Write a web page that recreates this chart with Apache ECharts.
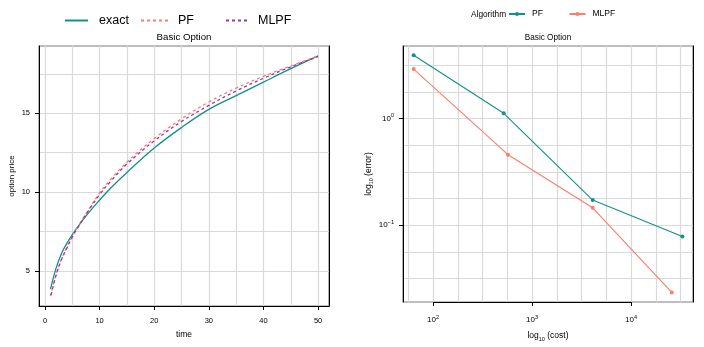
<!DOCTYPE html>
<html><head><meta charset="utf-8">
<script src="https://cdn.jsdelivr.net/npm/echarts@6/dist/echarts.min.js"></script>
<style>html,body{margin:0;padding:0;background:#fff}#c{width:704px;height:347px}</style>
</head><body><div id="c"></div>
<script>
// ---- data (left panel) ----
const times      = [1, 2, 3, 4, 5, 6, 8, 10, 12, 15, 20, 25, 30, 35, 40, 45, 50];
const exactPrice = [3.85, 5.15, 6.1, 6.75, 7.3, 7.8, 8.7, 9.5, 10.25, 11.25, 12.8, 14.1, 15.25, 16.12, 16.98, 17.83, 18.64];
const pfPrice    = [3.4, 4.75, 5.75, 6.5, 7.2, 7.8, 8.9, 9.95, 10.8, 11.9, 13.4, 14.65, 15.72, 16.6, 17.35, 18.0, 18.65];
const mlpfPrice  = [3.3, 4.7, 5.7, 6.45, 7.15, 7.75, 8.85, 9.85, 10.68, 11.78, 13.25, 14.48, 15.5, 16.42, 17.22, 17.95, 18.6];
// ---- data (right panel) ----
const costPF    = [63.8, 518, 4100, 33000];
const errorPF   = [3.92, 1.12, 0.172, 0.0785];
const costMLPF  = [63.8, 572, 4100, 25800];
const errorMLPF = [2.91, 0.458, 0.1455, 0.0234];
// ---- ticks ----
const timeLabels  = [0, 10, 20, 30, 40, 50];
const timeGrid    = [0, 5, 10, 15, 20, 25, 30, 35, 40, 45, 50];
const priceLabels = [5, 10, 15];
const priceGrid   = [5, 7.5, 10, 12.5, 15, 17.5];
const costExp     = [2, 3, 4];
const costGridExp = [1.75, 2, 2.25, 2.5, 2.75, 3, 3.25, 3.5, 3.75, 4, 4.25, 4.5];
const errExp      = [-1, 0];
const errGridExp  = [-1.5, -1.25, -1, -0.75, -0.5, -0.25, 0, 0.25, 0.5];

const FONT = 'Liberation Sans, Arial, Helvetica, sans-serif';
const TEAL = '#10918C', SALMON = '#FA7E6B', PURPLE = '#A0339E';
const GRID = '#D9D9D9';

const L = {xMin: -1.1, xMax: 52, yMin: 2.78, yMax: 19.27};
const R = {xMin: 1.697, xMax: 4.626, yMin: -1.72, yMax: 0.68};

function pairs(xs, ys, f) { return xs.map((x, i) => [f ? f(x) : x, f ? f(ys[i]) : ys[i]]); }
const lg = Math.log10;
const supFmt = v => '{b|10}{s|' + (v < 0 ? '\u2212' + (-v) : v) + '}';
const supRich = {b: {fontSize: 8, fontFamily: FONT, color: '#000', lineHeight: 12},
                 s: {fontSize: 5.5, fontFamily: FONT, color: '#000', verticalAlign: 'top', lineHeight: 12}};
const subRich = {b: {fontSize: 8.5, fontFamily: FONT, color: '#000', lineHeight: 12},
                 s: {fontSize: 5.5, fontFamily: FONT, color: '#000', verticalAlign: 'bottom', lineHeight: 12}};

function gridAxis(min, max, gridVals, gi, pos) {
  return {type: 'value', gridIndex: gi, min, max, position: pos,
    axisLine: {show: false, onZero: false},
    axisTick: {show: false, customValues: gridVals},
    axisLabel: {show: false},
    splitLine: {show: true, lineStyle: {color: GRID, width: 1.2}}};
}
function labelAxis(min, max, vals, gi, pos, extra) {
  return Object.assign({type: 'value', gridIndex: gi, min, max, position: pos,
    axisLine: {show: true, onZero: false, lineStyle: {color: '#000', width: 1}},
    axisTick: {show: true, length: 4, customValues: vals, lineStyle: {color: '#000', width: 1}},
    axisLabel: {show: true, customValues: vals, fontSize: 7.5, fontFamily: FONT, color: '#000'},
    splitLine: {show: false}}, extra || {});
}
function borderAxis(min, max, gi) {
  return {type: 'value', gridIndex: gi, min, max, position: 'right',
    axisLine: {show: true, onZero: false, lineStyle: {color: '#000', width: 1}},
    axisTick: {show: false}, axisLabel: {show: false}, splitLine: {show: false}};
}
function leg(left, top, w, h, name, fs, gap, hideSym) {
  const o = {left, top, padding: 0, itemWidth: w, itemHeight: h, data: [name],
    formatter: n => n.replace('_r', ''),
    textStyle: {fontSize: fs, color: '#000', fontFamily: FONT, padding: [0, 0, 0, gap]}};
  if (hideSym) o.itemStyle = {opacity: 0};
  return o;
}

const option = {
  animation: false,
  backgroundColor: '#fff',
  textStyle: {fontFamily: FONT},
  grid: [
    {left: 39, top: 46, width: 290, height: 260, show: true, borderColor: '#7F7F7F', borderWidth: 1.2, backgroundColor: 'transparent'},
    {left: 403, top: 46, width: 290, height: 260, show: true, borderColor: '#7F7F7F', borderWidth: 1.2, backgroundColor: 'transparent'}
  ],
  xAxis: [
    gridAxis(L.xMin, L.xMax, timeGrid, 0, 'bottom'),
    labelAxis(L.xMin, L.xMax, timeLabels, 0, 'bottom', {
      name: 'time', nameLocation: 'middle', nameGap: 23,
      nameTextStyle: {fontSize: 8.5, fontFamily: FONT, color: '#000'},
      axisLabel: {show: true, customValues: timeLabels, margin: 11, fontSize: 7.5, fontFamily: FONT, color: '#000'}}),
    gridAxis(R.xMin, R.xMax, costGridExp, 1, 'bottom'),
    labelAxis(R.xMin, R.xMax, costExp, 1, 'bottom', {
      axisLine: {show: false, onZero: false},
      name: '{b|log}{s|10}{b| (cost)}', nameLocation: 'middle', nameGap: 28,
      nameTextStyle: {rich: subRich},
      axisLabel: {show: true, customValues: costExp, margin: 12, formatter: supFmt, rich: supRich}})
  ],
  yAxis: [
    gridAxis(L.yMin, L.yMax, priceGrid, 0, 'left'),
    labelAxis(L.yMin, L.yMax, priceLabels, 0, 'left', {
      name: 'option price', nameLocation: 'middle', nameGap: 23, nameRotate: 90,
      nameTextStyle: {fontSize: 8, fontFamily: FONT, color: '#000'},
      axisLabel: {show: true, customValues: priceLabels, margin: 9, fontSize: 7.5, fontFamily: FONT, color: '#000'}}),
    borderAxis(L.yMin, L.yMax, 0),
    gridAxis(R.yMin, R.yMax, errGridExp, 1, 'left'),
    labelAxis(R.yMin, R.yMax, errExp, 1, 'left', {
      name: '{b|log}{s|10}{b| (error)}', nameLocation: 'middle', nameGap: 19, nameRotate: 90,
      nameTextStyle: {rich: subRich},
      axisLabel: {show: true, customValues: errExp, margin: 9, formatter: supFmt, rich: supRich}}),
    borderAxis(R.yMin, R.yMax, 1)
  ],
  legend: [
    leg(64, 14, 23, 14, 'exact', 12.5, 6, true),
    leg(140, 14, 27, 14, 'PF', 12.5, 5, true),
    leg(222, 14, 25, 14, 'MLPF', 12.5, 5, true),
    leg(508, 9.5, 16, 5, 'PF_r', 8.5, 2, false),
    leg(568.5, 9.5, 16, 5, 'MLPF_r', 8.5, 2, false)
  ],
  graphic: [
    {type: 'text', x: 184, y: 37.5, style: {text: 'Basic Option', x: 0, y: 0, align: 'center', verticalAlign: 'middle', fontSize: 9.7, fontFamily: FONT, fill: '#000'}},
    {type: 'text', x: 548, y: 37.5, style: {text: 'Basic Option', x: 0, y: 0, align: 'center', verticalAlign: 'middle', fontSize: 8.2, fontFamily: FONT, fill: '#000'}},
    {type: 'text', x: 471, y: 14.5, style: {text: 'Algorithm', x: 0, y: 0, align: 'left', verticalAlign: 'middle', fontSize: 8.3, fontFamily: FONT, fill: '#000'}}
  ],
  series: [
    {name: 'exact', type: 'line', xAxisIndex: 0, yAxisIndex: 0, data: pairs(times, exactPrice), smooth: 0.4, symbol: 'none',
      lineStyle: {color: TEAL, width: 1.3}, itemStyle: {color: TEAL}, z: 3},
    {name: 'PF', type: 'line', xAxisIndex: 0, yAxisIndex: 0, data: pairs(times, pfPrice), smooth: 0.4, symbol: 'none',
      lineStyle: {color: SALMON, width: 1.3, type: [3, 3]}, itemStyle: {color: SALMON}, z: 4},
    {name: 'MLPF', type: 'line', xAxisIndex: 0, yAxisIndex: 0, data: pairs(times, mlpfPrice), smooth: 0.4, symbol: 'none',
      lineStyle: {color: PURPLE, width: 1.3, type: [3, 3], dashOffset: 3}, itemStyle: {color: PURPLE}, z: 5},
    {name: 'PF_r', type: 'line', xAxisIndex: 2, yAxisIndex: 3, data: pairs(costPF, errorPF, lg), symbol: 'circle', symbolSize: 4,
      lineStyle: {color: TEAL, width: 1.1}, itemStyle: {color: TEAL},
      markLine: {silent: true, symbol: 'none', label: {show: false}, lineStyle: {color: '#000', width: 1.2, type: 'solid'},
        data: [[{coord: [costExp[0], R.yMin]}, {coord: [costExp[costExp.length - 1], R.yMin]}]]}},
    {name: 'MLPF_r', type: 'line', xAxisIndex: 2, yAxisIndex: 3, data: pairs(costMLPF, errorMLPF, lg), symbol: 'circle', symbolSize: 4,
      lineStyle: {color: SALMON, width: 1.1}, itemStyle: {color: SALMON}}
  ]
};
const chart = echarts.init(document.getElementById('c'), null, {renderer: 'canvas'});
chart.setOption(option);
</script>
</body></html>
